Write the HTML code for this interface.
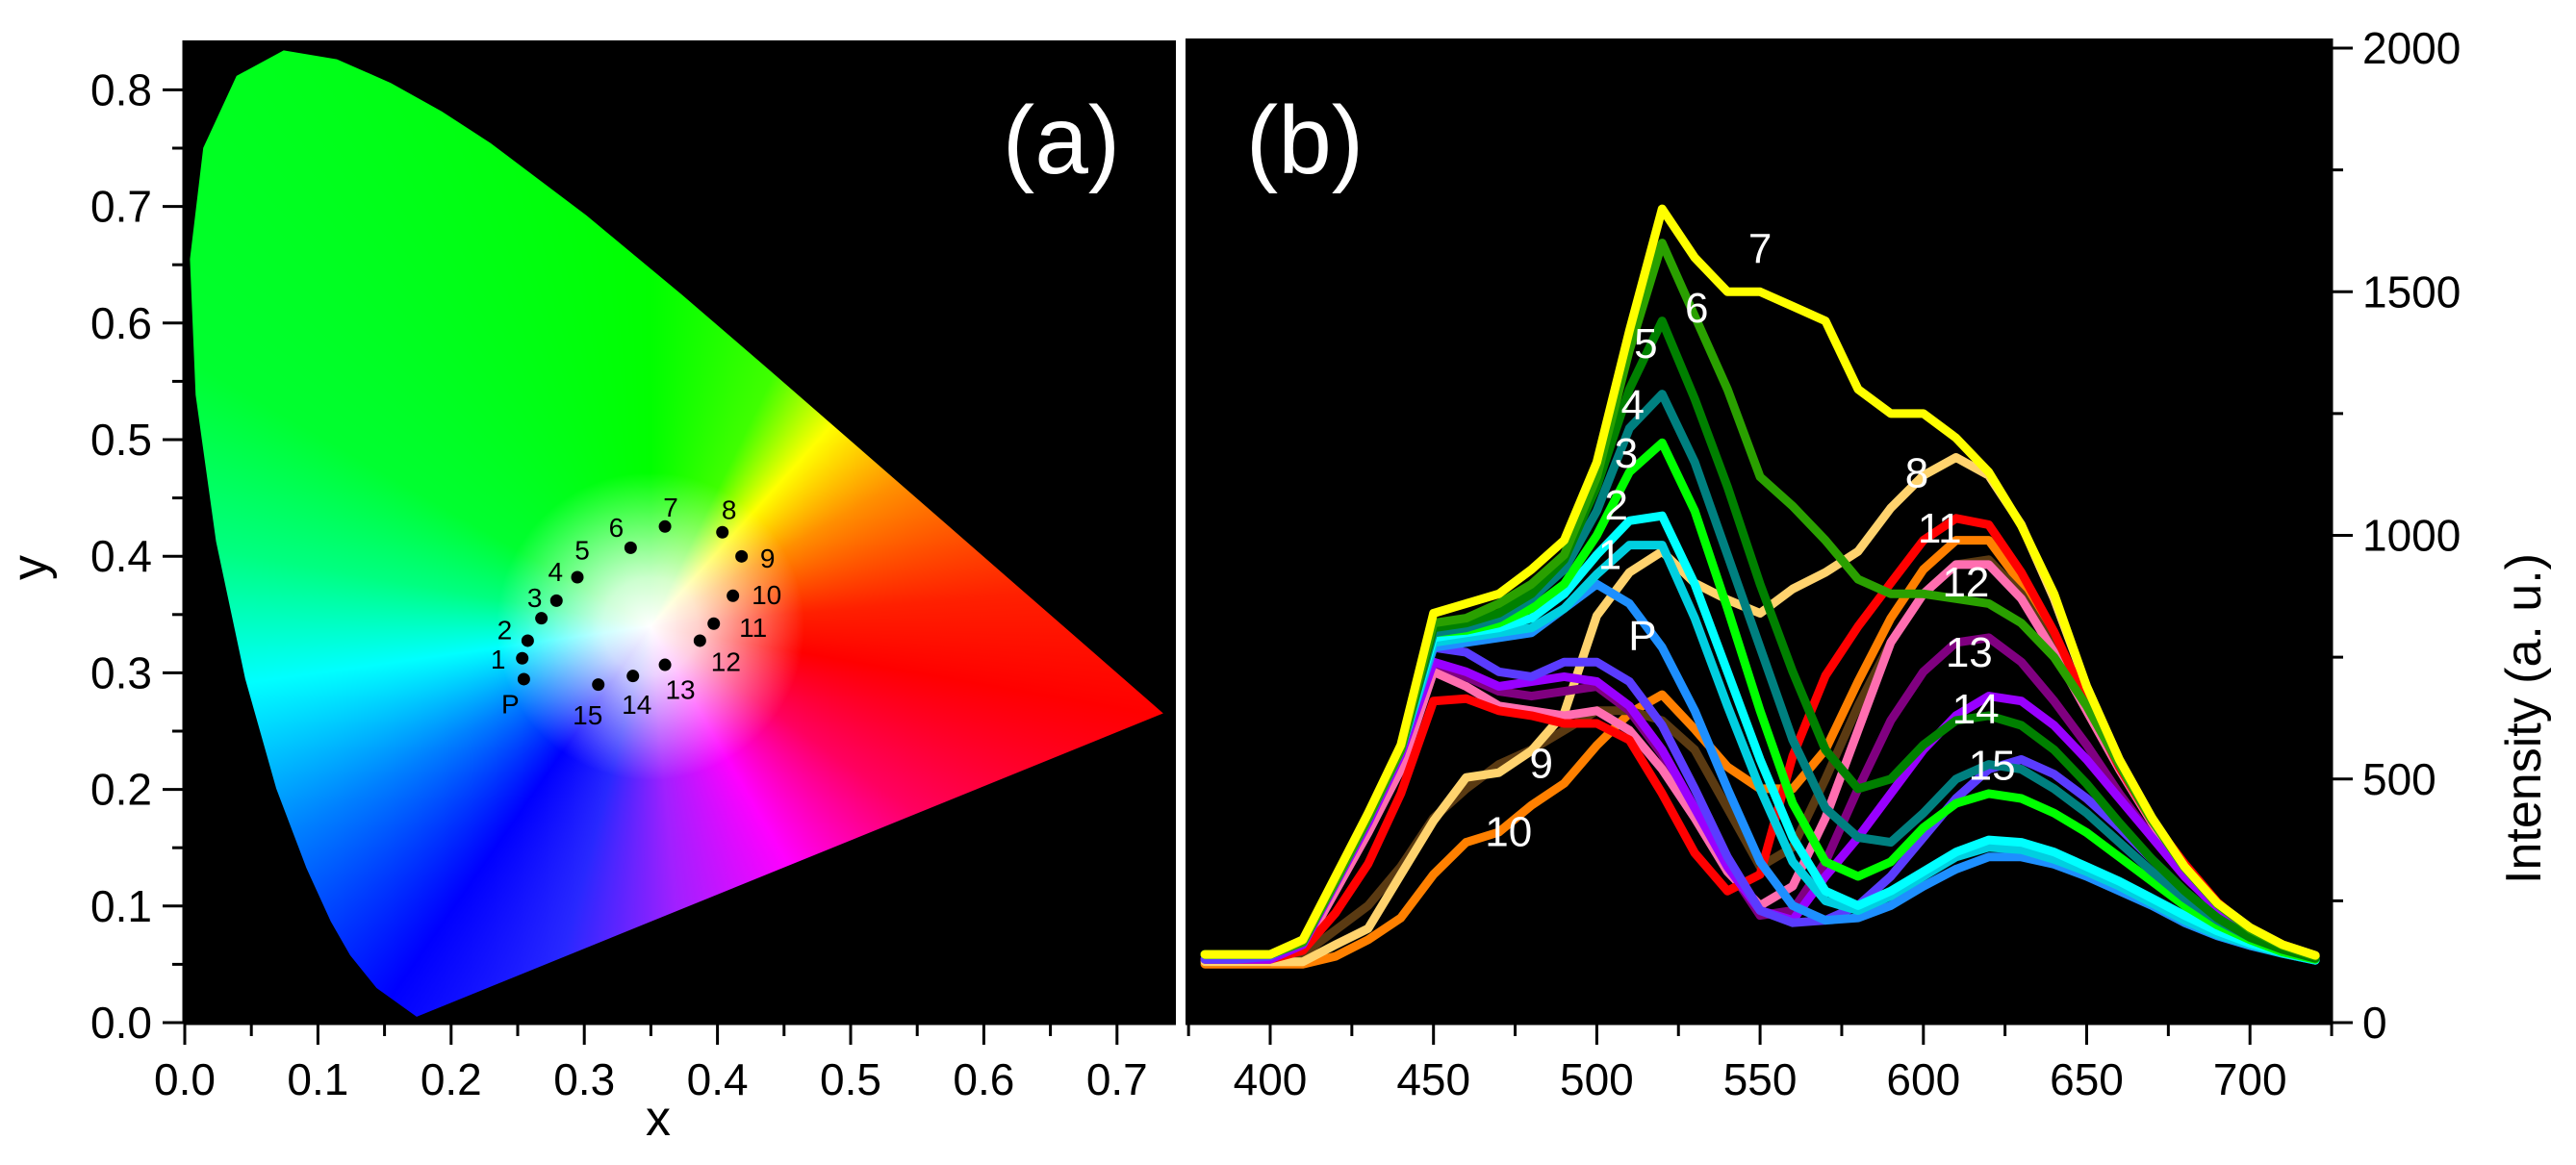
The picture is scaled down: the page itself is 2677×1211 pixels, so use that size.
<!DOCTYPE html>
<html><head><meta charset="utf-8">
<style>
html,body{margin:0;padding:0;background:#fff;}
body{width:2677px;height:1211px;position:relative;overflow:hidden;font-family:"Liberation Sans",Arial,sans-serif;}
svg{position:absolute;left:0;top:0;}
#cie{position:absolute;left:191px;top:42px;width:1031px;height:1021px;
background:radial-gradient(circle at 485px 609px, rgba(255,255,255,1) 0px, rgba(255,255,255,0.8) 50px, rgba(255,255,255,0) 160px),
conic-gradient(from 0deg at 485px 609px,#00ff00 0deg,#40ff00 26deg,#ffff00 42deg,#ff9000 60deg,#ff2000 85deg,#ff0000 100deg,#ff0060 125deg,#ff00ff 150deg,#a020ff 175deg,#2828ff 195deg,#0000ff 215deg,#0080ff 240deg,#00ffff 262deg,#00ff80 280deg,#00ff30 300deg,#00ff00 360deg);}
</style></head>
<body>
<svg id="bg" width="2677" height="1211">
  <rect x="191" y="42" width="1031" height="1021" fill="#000"/>
  <rect x="1232" y="40" width="1191" height="1023" fill="#000"/>
  <g id="ticks"></g>
</svg>
<div id="cie"></div>
<svg id="fg" width="2677" height="1211">
  <g id="dots"></g>
  <g id="curves"></g>
  <g id="labels"></g>
  <text x="1103" y="180" font-size="100" fill="#fff" text-anchor="middle">(a)</text>
  <text x="1356" y="180" font-size="100" fill="#fff" text-anchor="middle">(b)</text>
  <text x="684" y="1180" font-size="52" fill="#000" text-anchor="middle">x</text>
  <text x="0" y="0" font-size="52" fill="#000" text-anchor="middle" transform="translate(48,590) rotate(-90)">y</text>
  <text x="0" y="0" font-size="52" fill="#000" text-anchor="middle" transform="translate(2640,747) rotate(-90)">Intensity (a. u.)</text>
</svg>
<script>
// ---- CIE data ----
const locusX=[0.1741,0.1440,0.1241,0.1096,0.0913,0.0687,0.0454,0.0235,0.0082,0.0039,0.0139,0.0389,0.0743,0.1142,0.1547,0.1929,0.2296,0.3016,0.3731,0.4441,0.5125,0.5752,0.6270,0.6658,0.6915,0.7190,0.7347];
const locusY=[0.0050,0.0297,0.0578,0.0868,0.1327,0.2007,0.2950,0.4127,0.5384,0.6548,0.7502,0.8120,0.8338,0.8262,0.8059,0.7816,0.7543,0.6923,0.6245,0.5547,0.4866,0.4242,0.3725,0.3340,0.3083,0.2809,0.2653];
const pointNames=["P","1","2","3","4","5","6","7","8","9","10","11","12","13","14","15"];
const pointX=[0.2546,0.2534,0.2575,0.2678,0.2791,0.2948,0.3348,0.3606,0.4037,0.4181,0.4116,0.3972,0.3868,0.3606,0.3365,0.3105];
const pointY=[0.2946,0.3125,0.3276,0.3468,0.3619,0.3820,0.4073,0.4255,0.4206,0.3999,0.3661,0.3422,0.3276,0.3069,0.2973,0.2899];
const pointLabelDX=[-14,-25,-24,-7,-1,5,-15,6,7,27,35,41,27,16,4,-11];
const pointLabelDY=[26,1,-11,-21,-30,-28,-21,-20,-23,2,-1,4,22,26,30,32];
const aXTicks=[0,0.1,0.2,0.3,0.4,0.5,0.6,0.7];
const aYTicks=[0,0.1,0.2,0.3,0.4,0.5,0.6,0.7,0.8];
// ---- spectra data ----
const wavelengths=[380,390,400,410,420,430,440,450,460,470,480,490,500,510,520,530,540,550,560,570,580,590,600,610,620,630,640,650,660,670,680,690,700,710,720];
const sP=[140,140,140,165,290,420,560,770,780,790,800,850,900,860,770,640,480,330,240,210,215,240,280,315,340,340,325,300,270,240,205,178,158,142,128];
const s1=[140,140,140,165,290,420,560,780,790,800,810,850,920,980,980,830,650,480,330,250,230,260,300,340,360,355,335,310,280,245,210,180,160,142,128];
const s2=[140,140,140,165,290,420,560,790,800,810,830,880,960,1030,1040,900,720,540,380,270,240,270,310,350,375,370,350,320,290,255,220,188,163,144,129];
const s3=[140,140,140,165,290,420,560,800,805,820,850,900,1000,1130,1190,1050,850,640,450,330,300,330,400,450,470,460,430,390,340,290,240,200,170,145,130];
const s4=[140,140,140,165,290,420,560,800,810,830,870,930,1050,1220,1290,1150,960,770,580,440,380,370,430,500,530,520,480,430,370,310,255,210,175,150,132];
const s5=[140,140,140,165,290,420,560,810,820,840,880,950,1100,1300,1440,1280,1100,900,720,560,480,500,570,620,630,610,560,490,410,335,270,215,175,150,132];
const s6=[140,140,140,165,290,420,560,820,830,860,900,960,1120,1380,1600,1450,1300,1120,1060,990,910,880,880,870,860,820,750,650,530,415,318,243,192,158,136];
const s7=[140,140,140,170,300,430,570,840,860,880,930,990,1150,1420,1670,1570,1500,1500,1470,1440,1300,1250,1250,1200,1130,1020,880,690,540,420,320,245,195,160,138];
const s8=[125,125,125,125,160,193,304,414,503,513,558,635,835,924,967,902,868,840,890,924,967,1056,1123,1160,1123,1022,870,690,540,420,320,245,195,160,138];
const s9=[125,125,125,140,190,240,320,420,480,530,560,600,640,640,620,560,440,320,360,500,650,780,880,940,950,880,770,640,520,410,310,240,190,155,135];
const s10=[120,120,120,120,136,170,215,304,370,391,446,491,569,635,673,602,525,480,480,560,700,830,930,990,990,900,780,650,525,414,320,245,192,158,136];
const s11=[130,130,130,148,225,326,470,660,665,640,630,614,614,580,470,348,270,304,547,712,813,902,990,1035,1022,924,802,657,525,414,326,247,191,160,136];
const s12=[130,130,130,150,270,390,520,720,690,650,640,630,640,600,520,420,310,240,280,420,600,780,880,940,940,870,760,640,520,410,310,240,190,155,135];
const s13=[130,130,130,155,280,400,540,730,710,680,670,680,690,640,550,430,320,220,230,330,480,620,720,780,790,740,660,570,470,380,300,235,185,155,135];
const s14=[130,130,130,160,285,410,550,740,720,690,700,710,700,650,560,440,320,230,210,300,380,470,560,630,670,660,610,540,460,380,300,235,185,155,135];
const s15=[130,130,136,170,290,420,560,770,760,720,710,740,740,700,610,480,340,230,205,210,240,300,380,460,520,540,510,460,400,335,270,215,175,150,132];
const bXTicks=[400,450,500,550,600,650,700];
const bYTicks=[0,500,1000,1500,2000];
const curveLabels=["6","5","4","3","2","1","P","9","10","7","8","11","12","13","14","15"];
const curveLabelWl=[530.6,515,511,509,506,504,514,483,473,550,598,605,613,614,616,621];
const curveLabelVal=[1466,1393,1267,1168,1061,960,794,531,391,1587,1127,1014,903,759,643,527];

const NS="http://www.w3.org/2000/svg";
function ax(v){return 192+v*1384;}
function ay(v){return 1063-v*1212;}
function bx(w){return 1320+(w-400)*3.394;}
function by(v){return 1063-v*(1013/2000);}
function mk(tag,attrs,parent){const e=document.createElementNS(NS,tag);for(const k in attrs)e.setAttribute(k,attrs[k]);parent.appendChild(e);return e;}

// CIE clip
const pts=locusX.map((x,i)=>(ax(x)-191).toFixed(1)+'px '+(ay(locusY[i])-42).toFixed(1)+'px');
document.getElementById('cie').style.clipPath='polygon('+pts.join(',')+')';

// CIE points
const dots=document.getElementById('dots');
pointX.forEach((x,i)=>{
  const c=mk('circle',{cx:ax(x),cy:ay(pointY[i]),r:6.5,fill:'#000'},dots);
  
  
  const t=mk('text',{x:ax(x)+pointLabelDX[i],y:ay(pointY[i])+pointLabelDY[i],'font-size':28,'text-anchor':'middle','dominant-baseline':'central',fill:'#000'},dots);
  t.textContent=pointNames[i];
  
  
});

// ticks & axes
const tk=document.getElementById('ticks');
function line(x1,y1,x2,y2,name){const l=mk('line',{x1:x1,y1:y1,x2:x2,y2:y2,stroke:'#000','stroke-width':3},tk);
  
  }
function label(x,y,s,anchor,name){const t=mk('text',{x:x,y:y,'font-size':46,'text-anchor':anchor,'dominant-baseline':'central',fill:'#000'},tk);t.textContent=s;
  
  }
line(191,1064,1222,1064,'x-axis-a');
line(191,42,191,1064,'y-axis-a');
for(let v=0;v<=0.7001;v+=0.05){const major=Math.abs(v*10-Math.round(v*10))<1e-6;line(ax(v),1064,ax(v),1064+(major?22:13),'x-tick-a');}
aXTicks.forEach(v=>label(ax(v),1122,v.toFixed(1),'middle','x-tick-label-a'));
for(let v=0;v<=0.8301;v+=0.05){const major=Math.abs(v*10-Math.round(v*10))<1e-6;line(191,ay(v),191-(major?22:12),ay(v),'y-tick-a');}
aYTicks.forEach(v=>label(158,ay(v),v.toFixed(1),'end','y-tick-label-a'));
line(1232,1064,2423,1064,'x-axis-b');
line(2423,40,2423,1064,'y-axis-b');
for(let w=375;w<=725;w+=25){const major=w%50===0;line(bx(w),1064,bx(w),1064+(major?22:13),'x-tick-b');}
bXTicks.forEach(w=>label(bx(w),1122,String(w),'middle','x-tick-label-b'));
for(let v=0;v<=2000;v+=250){const major=v%500===0;line(2423,by(v),2423+(major?22:12),by(v),'y-tick-b');}
bYTicks.forEach(v=>label(2455,by(v),String(v),'start','y-tick-label-b'));

// spectra
const series=[["10",s10,"#ff8000"],["9",s9,"#5a3a12"],["8",s8,"#ffd36e"],["13",s13,"#800080"],["12",s12,"#ff6eb0"],["11",s11,"#ff0000"],["14",s14,"#9900ff"],["15",s15,"#5a3cff"],["p",sP,"#1e8fff"],["1",s1,"#00cfe0"],["2",s2,"#00ffff"],["3",s3,"#00ff00"],["4",s4,"#008080"],["5",s5,"#008000"],["6",s6,"#2aa000"],["7",s7,"#ffff00"]];
const cg=document.getElementById('curves');
series.forEach(s=>{
  const d=wavelengths.map((w,i)=>(i?'L':'M')+bx(w).toFixed(1)+','+by(s[1][i]).toFixed(1)).join(' ');
  const p=mk('path',{d:d,fill:'none',stroke:s[2],'stroke-width':9,'stroke-linejoin':'round','stroke-linecap':'round'},cg);
  
  
});
const lg=document.getElementById('labels');
curveLabels.forEach((s,i)=>{
  const t=mk('text',{x:bx(curveLabelWl[i]),y:by(curveLabelVal[i]),'font-size':44,'text-anchor':'middle','dominant-baseline':'central',fill:'#fff'},lg);
  t.textContent=s;
  
  
});
</script>
</body></html>
